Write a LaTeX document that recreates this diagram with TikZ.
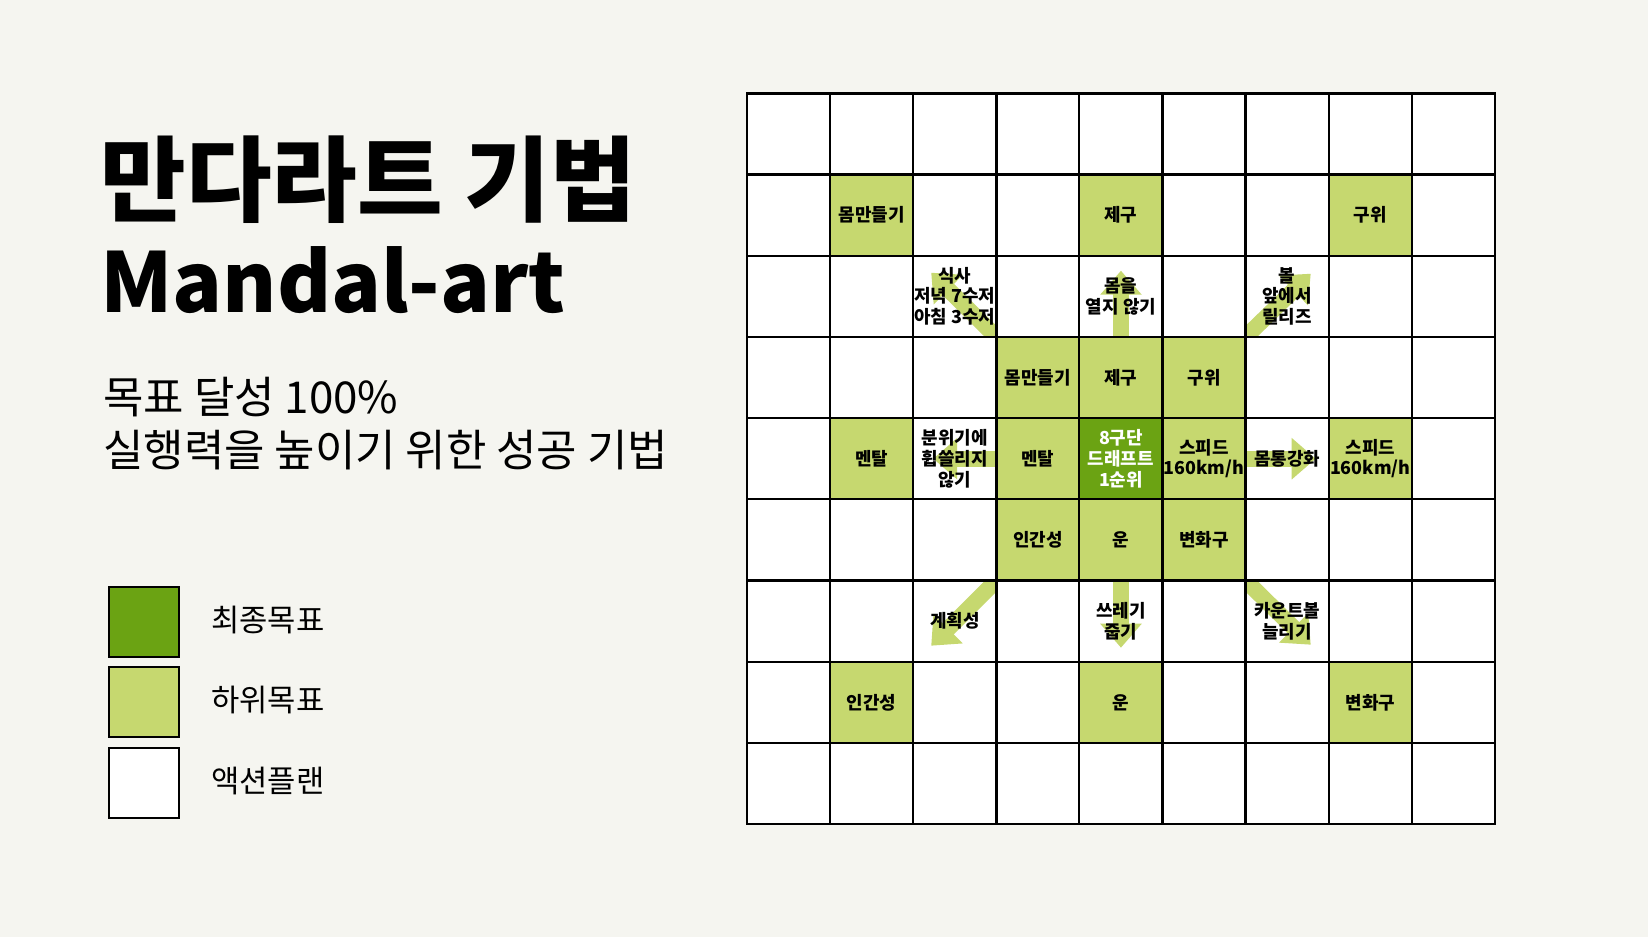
\documentclass[tikz,border=0pt]{standalone}
\usepackage{fontspec}
\setmainfont{Noto Sans CJK KR}
\usetikzlibrary{arrows.meta}
\definecolor{bgcol}{HTML}{F5F5F0}
\definecolor{finalgoal}{HTML}{6BA313}
\definecolor{subgoal}{HTML}{C6D86F}

\begin{document}
\begin{tikzpicture}[x=0.02cm, y=-0.02cm,
  cell/.style={minimum width=1.662cm, minimum height=1.624cm, inner sep=0pt, outer sep=0pt},
  celltext/.style={align=center, inner sep=0pt, font=\bfseries\fontsize{10.2}{11.8}\selectfont},
  goalarrow/.style={draw=subgoal, line width=0.32cm, -{Triangle[length=0.48cm, width=0.8cm]}},
  key/.style={draw=black, line width=1.2pt, minimum size=1.4cm, inner sep=0pt},
  keytext/.style={anchor=west, inner sep=0pt, font=\fontsize{17.5}{17.5}\selectfont}]

\fill[bgcol] (0,0) rectangle (1648,937);

\foreach \r in {1,...,9}
  \foreach \c in {1,...,9}
    \node[cell, fill=white] (c-\r-\c) at ({747+(\c-0.5)*83.1},{93.3+(\r-0.5)*81.2}) {};

\foreach \r/\c in {2/2,2/5,2/8,4/4,4/5,4/6,5/2,5/4,5/6,5/8,6/4,6/5,6/6,8/2,8/5,8/8}
  \fill[subgoal] (c-\r-\c.south west) rectangle (c-\r-\c.north east);
\fill[finalgoal] (c-5-5.south west) rectangle (c-5-5.north east);

\foreach \r/\c/\from/\to/\dx/\dy in {3/3/south east/north west/18/17, 3/5/south/north/0/15,
    3/7/south west/north east/-18/18, 5/3/east/west/20/0, 5/7/west/east/-13/0,
    7/3/north east/south west/18/-16, 7/5/north/south/0/-14, 7/7/north west/south east/-18/-17}
{
  \begin{scope}
    \clip (c-\r-\c.south west) rectangle (c-\r-\c.north east);
    \draw[goalarrow] (c-\r-\c.\from) -- ([shift={(\dx,\dy)}]c-\r-\c.\to);
  \end{scope}
}

\foreach \r in {1,...,9}
  \foreach \c in {1,...,9}
    \draw[line width=1.2pt] (c-\r-\c.south west) rectangle (c-\r-\c.north east);
\foreach \i in {0,3,6}
  \foreach \j in {0,3,6}
    \draw[line width=1.45pt] ({747+\j*83.1},{93.3+\i*81.2}) rectangle +(249.3,243.6);

\node[celltext] (t-2-2) at (c-2-2) {몸만들기};
\node[celltext] (t-2-5) at (c-2-5) {제구};
\node[celltext] (t-2-8) at (c-2-8) {구위};
\node[celltext] (t-3-3) at (c-3-3) {식사\\저녁 7수저\\아침 3수저};
\node[celltext] (t-3-5) at (c-3-5) {몸을\\열지 않기};
\node[celltext] (t-3-7) at (c-3-7) {볼\\앞에서\\릴리즈};
\node[celltext] (t-4-4) at (c-4-4) {몸만들기};
\node[celltext] (t-4-5) at (c-4-5) {제구};
\node[celltext] (t-4-6) at (c-4-6) {구위};
\node[celltext] (t-5-2) at (c-5-2) {멘탈};
\node[celltext] (t-5-3) at (c-5-3) {분위기에\\휩쓸리지\\않기};
\node[celltext] (t-5-4) at (c-5-4) {멘탈};
\node[celltext, text=white] (t-5-5) at (c-5-5) {8구단\\드래프트\\1순위};
\node[celltext] (t-5-6) at (c-5-6) {스피드\\160km/h};
\node[celltext] (t-5-7) at (c-5-7) {몸통강화};
\node[celltext] (t-5-8) at (c-5-8) {스피드\\160km/h};
\node[celltext] (t-6-4) at (c-6-4) {인간성};
\node[celltext] (t-6-5) at (c-6-5) {운};
\node[celltext] (t-6-6) at (c-6-6) {변화구};
\node[celltext] (t-7-3) at (c-7-3) {계획성};
\node[celltext] (t-7-5) at (c-7-5) {쓰레기\\줍기};
\node[celltext] (t-7-7) at (c-7-7) {카운트볼\\늘리기};
\node[celltext] (t-8-2) at (c-8-2) {인간성};
\node[celltext] (t-8-5) at (c-8-5) {운};
\node[celltext] (t-8-8) at (c-8-8) {변화구};

\node[anchor=west, inner sep=0pt, font=\bfseries\fontsize{53}{53}\selectfont] (title) at (100,180) {만다라트 기법};
\node[anchor=base west, inner sep=0pt, font=\bfseries\fontsize{47}{47}\selectfont] (engtitle) at (100,312) {Mandal-art};
\node[anchor=west, inner sep=0pt, font=\fontsize{25}{25}\selectfont] (lineone) at (103,397) {목표 달성 100\%};
\node[anchor=west, inner sep=0pt, font=\fontsize{25}{25}\selectfont] (linetwo) at (103,450) {실행력을 높이기 위한 성공 기법};

\node[key, fill=finalgoal] (k-final) at (144,622) {};
\node[keytext] (l-final) at (211,620) {최종목표};
\node[key, fill=subgoal] (k-sub) at (144,702) {};
\node[keytext] (l-sub) at (211,700) {하위목표};
\node[key, fill=white] (k-action) at (144,783) {};
\node[keytext] (l-action) at (211,781) {액션플랜};
\end{tikzpicture}
\end{document}
